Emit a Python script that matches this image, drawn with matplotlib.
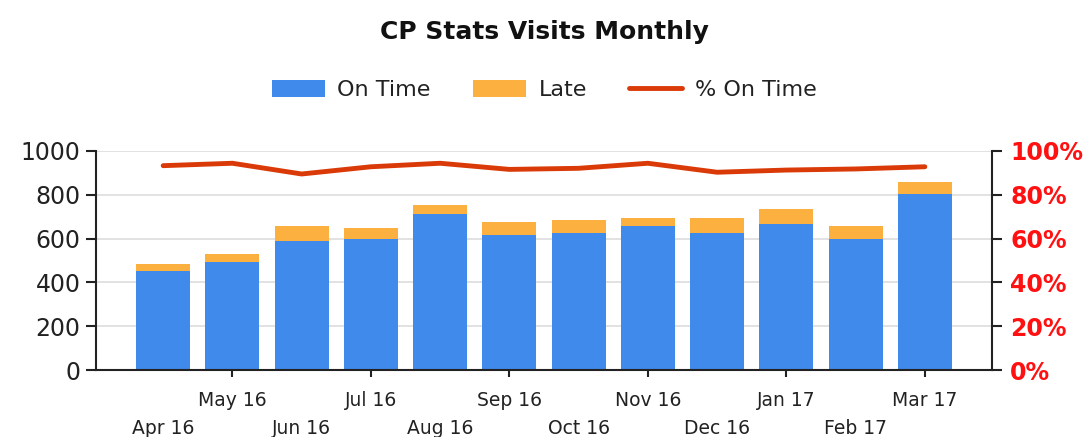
import matplotlib
matplotlib.use("Agg")
import matplotlib.pyplot as plt
from matplotlib.ticker import FixedLocator, PercentFormatter

plt.rcParams['font.family'] = ['DejaVu Sans']

# Data
months = ["Apr 16", "May 16", "Jun 16", "Jul 16", "Aug 16", "Sep 16",
          "Oct 16", "Nov 16", "Dec 16", "Jan 17", "Feb 17", "Mar 17"]
on_time = [453, 492, 590, 598, 714, 616, 627, 658, 627, 665, 598, 802]
late = [30, 39, 66, 49, 39, 60, 58, 36, 67, 69, 58, 56]
pct_on_time = [93.3, 94.4, 89.5, 92.8, 94.4, 91.6, 92.1, 94.4, 90.3, 91.3, 91.8, 92.8]

blue = "#3F8AEA"
orange = "#FBB040"
red_line = "#D93A08"
dark = "#222222"

fig = plt.figure(figsize=(10.88, 4.37), dpi=100)
ax = fig.add_axes([96 / 1088, 1 - 370 / 437, (992 - 96) / 1088, (370 - 151) / 437])

x = list(range(len(months)))
b1 = ax.bar(x, on_time, width=0.78, color=blue, label="On Time", zorder=2)
b2 = ax.bar(x, late, width=0.78, bottom=on_time, color=orange, label="Late", zorder=2)

ax.set_xlim(-0.97, 11.97)
ax.set_ylim(0, 1000)
ax.set_yticks(range(0, 1001, 200))
ax.grid(axis="y", color="#dddddd", linewidth=1.2, zorder=0)
ax.tick_params(axis="y", labelsize=17, length=7, width=1.5, pad=4,
               color=dark, labelcolor=dark)

# odd months get tick marks on the first row, even months go on a second row
ax.xaxis.set_major_locator(FixedLocator(x[1::2]))
ax.set_xticklabels(months[1::2])
ax.xaxis.set_minor_locator(FixedLocator(x[0::2]))
ax.set_xticklabels(months[0::2], minor=True)
ax.tick_params(axis="x", which="major", labelsize=13.5, length=5, width=1.5, pad=10,
               color=dark, labelcolor=dark)
ax.tick_params(axis="x", which="minor", labelsize=13.5, length=0, pad=35,
               labelcolor=dark)

for s in ["top", "right"]:
    ax.spines[s].set_visible(False)
for s in ["left", "bottom"]:
    ax.spines[s].set_linewidth(1.5)
    ax.spines[s].set_color(dark)

ax2 = ax.twinx()
ln, = ax2.plot(x, pct_on_time, color=red_line, linewidth=3.5, label="% On Time",
               solid_capstyle="round")
ax2.set_ylim(0, 100)
ax2.set_yticks(range(0, 101, 20))
ax2.yaxis.set_major_formatter(PercentFormatter(decimals=0))
ax2.tick_params(axis="y", labelsize=17, labelcolor="#FF1111", length=7, width=1.5,
                color=dark, pad=6)
for lbl in ax2.get_yticklabels():
    lbl.set_fontweight("bold")
for s in ["top", "left", "bottom"]:
    ax2.spines[s].set_visible(False)
ax2.spines["right"].set_linewidth(1.5)
ax2.spines["right"].set_color(dark)

fig.text(0.5, 1 - 32 / 437, "CP Stats Visits Monthly", ha="center", va="center",
         fontsize=18, fontweight="bold", color="#111111")
fig.legend(handles=[b1, b2, ln], loc="center", bbox_to_anchor=(0.5, 1 - 90 / 437),
           ncol=3, frameon=False, fontsize=16, handlelength=2.4, handleheight=0.8,
           handletextpad=0.55, columnspacing=1.9, labelcolor=dark)

fig.savefig("out.png", dpi=100)
